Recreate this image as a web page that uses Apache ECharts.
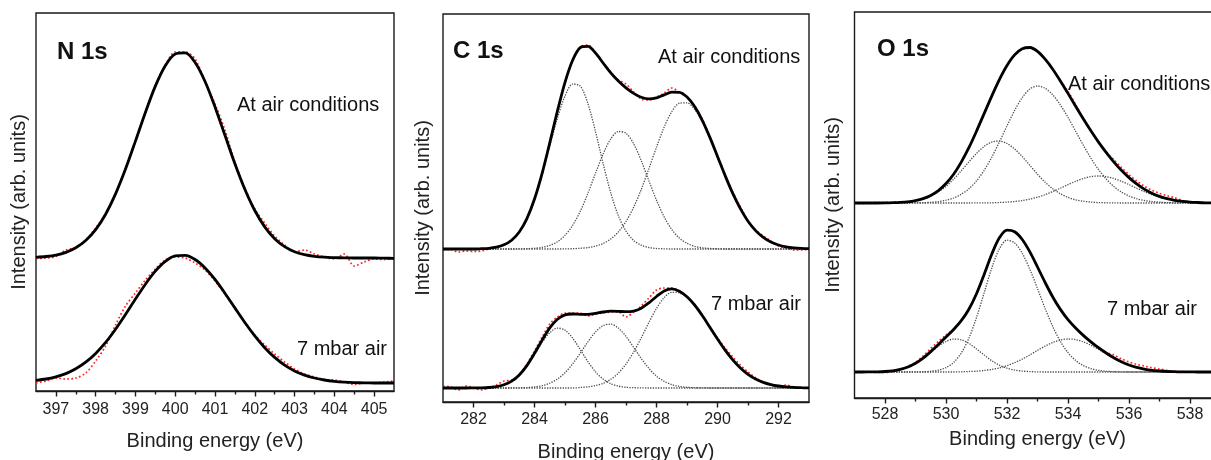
<!DOCTYPE html>
<html><head><meta charset="utf-8">
<script src="https://cdn.jsdelivr.net/npm/echarts@6/dist/echarts.min.js"></script>
<style>html,body{margin:0;padding:0;background:#fff}#c{width:1211px;height:460px}</style>
</head><body><div id="c"></div>
<script>
// ---------- N 1s ----------
const nX = [396.5,396.75,397,397.25,397.5,397.75,398,398.25,398.5,398.75,399,399.25,399.5,399.75,400,400.25,400.5,400.75,401,401.25,401.5,401.75,402,402.25,402.5,402.75,403,403.25,403.5,403.75,404,404.25,404.5,404.75,405,405.25,405.5];
const nAirFit = [133.7,134.5,135.9,138.6,143.2,150.5,161.4,176.8,197.1,221.9,249.9,278.6,304.9,325.3,337.0,338.1,328.5,309.5,284.1,255.7,227.3,201.8,180.5,164.1,152.3,144.4,139.3,136.4,134.7,133.8,133.4,133.1,133.0,133.0,133.0,132.8,132.7];
const nAirData = [132.5,133,134.5,141,143.5,151,163,177,197,222,250,279,305,326,339,339,332,309,287,261,229,203,182,168,155,146,139,141,137,134,132,137,125,129,132,131.5,133];
const nMbarFit = [10.7,12.0,14.2,17.4,22.2,28.8,37.6,48.6,61.8,76.5,91.9,106.8,119.8,129.6,135.1,135.6,131.5,123.1,111.6,97.8,83.1,68.5,55.1,43.3,33.6,25.9,20.1,15.9,13.0,11.0,9.7,8.9,8.4,8.1,8.0,8.0,8.0];
const nMbarData = [8,10,13,12,13,18,30,45,66,85,98,111,122,131,134,133,128,121,110,97,83,69,56,46,37,29,22,17,14,11.5,11,9,6.5,8,8,9,10];
const nMajor = [397,398,399,400,401,402,403,404,405];
const nMinor = [397.5,398.5,399.5,400.5,401.5,402.5,403.5,404.5];

// ---------- C 1s ----------
const cX = [281,281.25,281.5,281.75,282,282.25,282.5,282.75,283,283.25,283.5,283.75,284,284.25,284.5,284.75,285,285.25,285.5,285.75,286,286.25,286.5,286.75,287,287.25,287.5,287.75,288,288.25,288.5,288.75,289,289.25,289.5,289.75,290,290.25,290.5,290.75,291,291.25,291.5,291.75,292,292.25,292.5,292.75,293];
const cAirFit = [153,153,153,153, 153,153.3,153.7,154.8, 157.2,161.8,170.0,183.4, 203.0,228.7,259.2,290.8, 319.7,341.8,354.4,355.6, 349.0,339.0,329.1,320.9, 314.1,308.6,304.7,303.1, 304.1,307.1,309.8,309.7, 304.9,295.4,281.7,264.6, 245.6,226.4,208.6,193.3, 180.8,171.4,164.6,160.0, 157.0,155.2,154.2,153.6, 153.3];
const cAirC1 = [153,153,153,153, 153,153.3,153.7,154.8, 157.2,161.8,169.9,183.1, 202.3,227.1,255.6,283.6, 306.0,317.9,316.0,298.6, 270.4,238.5,209.1,186.3, 170.8,161.6,156.8,154.5, 153.5,153.2,153,153, 153,153,153,153, 153,153,153,153, 153,153,153,153, 153,153,153,153, 153];
const cAirC2 = [153,153,153,153, 153,153,153,153, 153,153,153.1,153.3, 153.7,154.6,156.6,160.2, 166.6,176.6,190.7,208.6, 228.7,248.0,263.0,270.5, 268.8,258.3,241.3,221.3, 201.8,185.1,172.5,163.9, 158.7,155.7,154.2,153.5, 153.2,153,153,153, 153,153,153,153, 153,153,153,153, 153];
const cAirC3 = [153,153,153,153, 153,153,153,153, 153,153,153,153, 153,153,153,153, 153.1,153.3,153.7,154.4, 155.9,158.5,163.0,170.1, 180.5,194.7,212.6,233.3, 254.8,274.8,290.3,298.8, 299.2,292.7,280.5,264.1, 245.4,226.4,208.6,193.3, 180.8,171.4,164.6,160.0, 157.0,155.2,154.2,153.6, 153.3];
const cAirData = [152,152.5,150,151, 150.5,151,153,155, 157,162,170,183, 203,229,259,291, 320,342,355,357, 349,339,330,322, 318,310,303,302, 305,309,314,310, 305,296,283,265, 246,227,210,195, 181,172,166,161, 156,154,152,152, 153];
const cMbarFit = [14,14,14,14, 14.1,14.2,14.5,15.3, 17.2,20.8,27.1,36.4, 48.6,61.9,74.1,82.8, 87.2,88.0,87.7,87.6, 88.6,90.0,90.8,90.7, 90.3,90.9,93.8,99.1, 105.5,111.1,113.1,110.7, 105.2,97.0,86.5,74.8, 63.0,51.9,42.1,34.0, 27.6,22.9,19.6,17.4, 16.0,15.1,14.6,14.3, 14.1];
const cMbarC1 = [14,14,14,14, 14.1,14.2,14.5,15.3, 17.2,20.8,26.9,36.0, 47.5,59.6,69.3,73.9, 71.9,63.9,52.4,40.4, 30.2,22.9,18.3,15.9, 14.7,14.3,14.1,14, 14,14,14,14, 14,14,14,14, 14,14,14,14, 14,14,14,14, 14,14,14,14, 14];
const cMbarC2 = [14,14,14,14, 14,14,14,14, 14,14.1,14.2,14.4, 15.1,16.3,18.8,22.9, 29.3,38.1,48.8,60.1, 70.0,76.4,77.8,73.9, 65.6,54.7,43.5,33.6, 25.9,20.7,17.4,15.6, 14.7,14.3,14.1,14, 14,14,14,14, 14,14,14,14, 14,14,14,14, 14];
const cMbarC3 = [14,14,14,14, 14,14,14,14, 14,14,14,14, 14,14,14,14, 14,14,14.5,15.1, 16.4,18.7,22.7,28.9, 38.0,49.9,64.2,79.5, 93.6,104.4,109.7,109.1, 104.5,96.7,86.4,74.8, 63.0,51.9,42.1,34.0, 27.6,22.9,19.6,17.4, 16.0,15.1,14.6,14.3, 14.1];
const cMbarData = [16,15,12,16, 14,12,14,17, 21,22,27,38, 51,65,78,85, 89,89,89,86, 88,89,90,90, 85,90,96,104, 112,114,114,111, 105,97,87,75, 64,54,45,37, 30,24,20,17, 15,17,15,14, 14];
const cMajor = [282,284,286,288,290,292];
const cMinor = [283,285,287,289,291];

// ---------- O 1s ----------
const oX = [527,527.25,527.5,527.75,528,528.25,528.5,528.75,529,529.25,529.5,529.75,530,530.25,530.5,530.75,531,531.25,531.5,531.75,532,532.25,532.5,532.75,533,533.25,533.5,533.75,534,534.25,534.5,534.75,535,535.25,535.5,535.75,536,536.25,536.5,536.75,537,537.25,537.5,537.75,538,538.25,538.5,538.75,539];
const oAirFit = [195,195,195,195, 195.1,195.3,195.6,196.2, 197.4,199.4,202.6,207.4, 214.5,223.8,235.9,250.3, 266.8,284.4,301.9,318.4, 332.5,343.1,349.2,350.5, 346.6,338.8,328.8,317.1, 304.6,291.7,279.2,267.2, 255.9,245.7,236.2,227.7, 220.4,214.1,208.9,204.8, 201.6,199.3,197.7,196.6, 195.9,195.5,195.2,195.1, 195.1];
const oAirC1 = [195,195,195,195, 195.1,195.3,195.6,196.2, 197.3,199.1,201.9,206.0, 211.7,218.8,227.2,236.1, 244.6,251.6,255.9,256.9, 254.5,249.0,241.4,232.6, 223.8,215.8,209.2,204.2, 200.6,198.2,196.8,195.9, 195.4,195.2,195.1,195, 195,195,195,195, 195,195,195,195, 195,195,195,195, 195];
const oAirC2 = [195,195,195,195, 195,195,195,195, 195.2,195.3,195.7,196.4, 197.8,200.0,203.7,209.2, 217.1,227.7,240.8,256.0, 272.1,287.6,300.4,309.0, 312.0,309.7,303.2,293.1, 280.6,266.8,252.9,239.9, 228.5,219.1,211.6,206.0, 202.0,199.3,197.5,196.5, 195.8,195.4,195.2,195.1, 195,195,195,195, 195];
const oAirC3 = [195,195,195,195, 195,195,195,195, 195,195,195,195, 195,195,195,195, 195.1,195.1,195.2,195.5, 195.9,196.5,197.4,198.9, 200.8,203.3,206.4,209.8, 213.4,216.7,219.5,221.4, 222.0,221.4,219.5,216.7, 213.4,209.8,206.4,203.3, 200.8,198.9,197.4,196.5, 195.9,195.5,195.2,195.1, 195.1];
const oAirData = [195,194.5,195,195.5, 195.5,196,195.8,196.5, 197.4,199.4,202.6,207.4, 214.5,223.8,236,250.3, 266.8,284.4,302,318.4, 332.5,343.1,349.2,350.5, 346.6,338.8,328.8,317.1, 306.5,293.5,279.2,267.2, 255.9,245.7,238.2,230.7, 223.4,217.1,211.9,207.8, 204.6,202.3,200.2,197.6, 196,195.5,195.2,195.1, 195.1];
const oMbarFit = [26,26,26.1,26.2, 26.5,27.2,28.6,31.0, 34.7,39.9,46.4,53.5, 60.9,68.5,77.3,88.8, 104.3,123.6,143.8,160.2, 167.9,166.3,158.5,146.1, 131.0,115.5,101.0,88.6, 78.3,69.9,62.6,56.2, 50.3,45.0,40.2,36.2, 33.0,30.6,28.9,27.7, 27.0,26.5,26.3,26.1, 26.1,26,26,26, 26];
const oMbarC1 = [26,26,26.1,26.2, 26.5,27.2,28.6,31.0, 34.6,39.7,45.7,51.7, 56.5,58.9,58.2,54.6, 49.1,43.0,37.3,32.8, 29.8,27.9,26.9,26.4, 26.1,26,26,26, 26,26,26,26, 26,26,26,26, 26,26,26,26, 26,26,26,26, 26,26,26,26, 26];
const oMbarC2 = [26,26,26,26, 26,26,26,26, 26.1,26.2,26.7,27.8, 30.4,35.6,44.9,59.7, 80.4,105.1,129.9,149.2, 157.8,155.1,144.7,128.6, 109.3,89.5,71.5,56.6, 45.3,37.5,32.4,29.4, 27.7,26.8,26.3,26.1, 26,26,26,26, 26,26,26,26, 26,26,26,26, 26];
const oMbarC3 = [26,26,26,26, 26,26,26,26, 26,26,26,26, 26,26,26.2,26.5, 26.8,27.5,28.6,30.1, 32.4,35.3,38.9,43.1, 47.6,51.9,55.5,58.0, 59.0,58.4,56.2,52.8, 48.6,44.2,39.9,36.1, 33.0,30.6,28.9,27.7, 27.0,26.5,26.3,26.1, 26.1,26,26,26, 26];
const oMbarData = [26,26.5,26,25.5, 25.5,26.2,28.6,31.5, 35.5,42,49.4,56.5, 62.9,69,77.3,88.8, 104.3,123.6,143.8,160.2, 167.9,166.3,158.5,146.1, 131.0,115.5,101.0,88.6, 78.3,69.9,62.6,56.2, 50.3,45.5,43.2,39.2, 36,33.6,31.9,30.2, 29,27.5,26.3,26.5, 26,26.3,26,25.8, 26];
const oMajor = [528,530,532,534,536,538];
const oMinor = [529,531,533,535,537];

const panelTitles = ['N 1s','C 1s','O 1s'];
const condLabels = ['At air conditions','7 mbar air'];
const xName = 'Binding energy (eV)';
const yName = 'Intensity (arb. units)';

// ---------- build ----------
const F = '"Liberation Sans", Arial, Helvetica, sans-serif';
const zip = (xs, ys) => xs.map((x, i) => [x, ys[i]]);
const panels = [
  {grid:{left:36,top:13,width:358,height:378}, min:396.5, max:405.5, ymax:378, major:nMajor, minor:nMinor, lm:11, ng:40, yg:7,
   x:nX, data:[nAirData,nMbarData], comps:[], fits:[nAirFit,nMbarFit]},
  {grid:{left:443,top:14,width:366,height:388}, min:281, max:293, ymax:388, major:cMajor, minor:cMinor, lm:10, ng:40, yg:10,
   x:cX, data:[cAirData,cMbarData], comps:[cAirC1,cAirC2,cAirC3,cMbarC1,cMbarC2,cMbarC3], fits:[cAirFit,cMbarFit]},
  {grid:{left:854.5,top:12,width:366,height:386}, min:527, max:539, ymax:386, major:oMajor, minor:oMinor, lm:9, ng:31, yg:11,
   x:oX, data:[oAirData,oMbarData], comps:[oAirC1,oAirC2,oAirC3,oMbarC1,oMbarC2,oMbarC3], fits:[oAirFit,oMbarFit]}
];
const grids = [], xAxes = [], yAxes = [], series = [];
panels.forEach((p, i) => {
  grids.push(Object.assign({show:true, borderColor:'#1a1a1a', borderWidth:1.4, backgroundColor:'transparent', containLabel:false, outerBoundsMode:'none'}, p.grid));
  xAxes.push({type:'value', gridIndex:i, position:'bottom', min:p.min, max:p.max,
    axisLine:{show:true, lineStyle:{color:'#1a1a1a', width:1.4}},
    axisTick:{show:true, customValues:p.major, length:5.5, inside:false, lineStyle:{color:'#1a1a1a', width:1.4}},
    axisLabel:{show:true, customValues:p.major, margin:p.lm, fontSize:16, fontFamily:F, color:'#222'},
    splitLine:{show:false},
    name:xName, nameLocation:'middle', nameGap:p.ng, nameTextStyle:{fontSize:20, fontFamily:F, color:'#222'}});
  xAxes.push({type:'value', gridIndex:i, position:'top', offset:-p.grid.height, min:p.min, max:p.max,
    axisLine:{show:false},
    axisTick:{show:true, customValues:p.minor, length:3.5, inside:true, lineStyle:{color:'#1a1a1a', width:1.4}},
    axisLabel:{show:false}, splitLine:{show:false}});
  yAxes.push({type:'value', gridIndex:i, min:0, max:p.ymax,
    axisLine:{show:false}, axisTick:{show:false}, axisLabel:{show:false}, splitLine:{show:false},
    name:yName, nameLocation:'middle', nameGap:p.yg, nameTextStyle:{fontSize:20, fontFamily:F, color:'#222'}});
  const common = {type:'line', xAxisIndex:2*i, yAxisIndex:i, showSymbol:false, symbol:'none', smooth:0.3, silent:true, animation:false, clip:true};
  p.data.forEach(d => series.push(Object.assign({}, common, {z:2, data:zip(p.x, d), lineStyle:{color:'#f22', width:1.7, type:[1.7,2.3]}})));
  p.comps.forEach(d => series.push(Object.assign({}, common, {z:3, data:zip(p.x, d), lineStyle:{color:'#4d4d4d', width:1.3, type:[1.3,1.3]}})));
  p.fits.forEach(d => series.push(Object.assign({}, common, {z:4, data:zip(p.x, d), lineStyle:{color:'#000', width:2.8}})));
});

const txt = (t, x, y, size, bold) => ({type:'text', x:x, y:y, z:10, silent:true,
  style:{text:t, fontSize:size, fontWeight:bold ? 'bold' : 'normal', fontFamily:F, fill:'#111', verticalAlign:'middle', align:'left'}});
const graphic = [
  txt(panelTitles[0], 57, 52, 24, true),
  txt(panelTitles[1], 453, 51.5, 24, true),
  txt(panelTitles[2], 877, 49, 24, true),
  txt(condLabels[0], 237, 105, 20, false),
  txt(condLabels[1], 297, 349, 20, false),
  txt(condLabels[0], 658, 57, 20, false),
  txt(condLabels[1], 711, 304, 20, false),
  txt(condLabels[0], 1068, 84, 20, false),
  txt(condLabels[1], 1107, 309, 20, false)
];

const chart = echarts.init(document.getElementById('c'), null, {renderer:'canvas'});
chart.setOption({animation:false, backgroundColor:'#fff', grid:grids, xAxis:xAxes, yAxis:yAxes, series:series, graphic:graphic});
</script></body></html>
